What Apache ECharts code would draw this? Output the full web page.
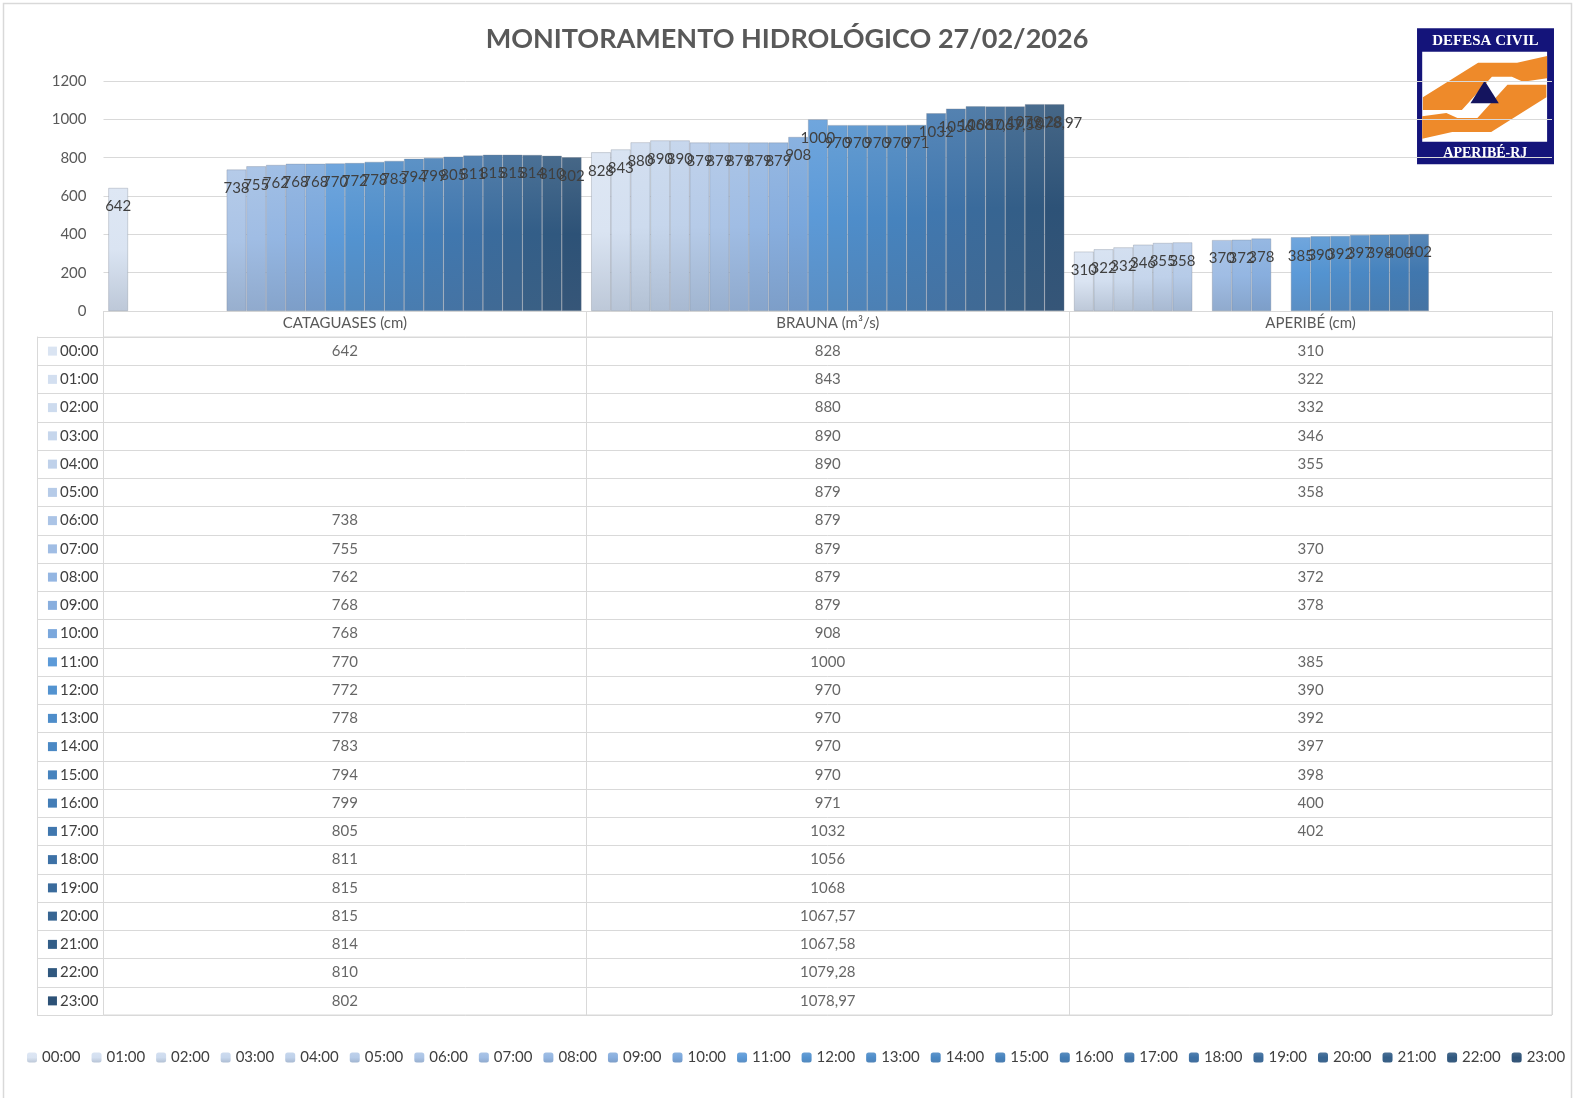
<!DOCTYPE html>
<html>
<head>
<meta charset="utf-8">
<script src="https://cdn.jsdelivr.net/npm/echarts@6/dist/echarts.min.js"></script>
<style>
html,body{margin:0;padding:0;background:#fff;}
#chart{width:1574px;height:1098px;}
</style>
</head>
<body>
<div id="chart"></div>
<script>
// ---- DATA ----
const hours = ['00:00','01:00','02:00','03:00','04:00','05:00','06:00','07:00','08:00','09:00','10:00','11:00',
               '12:00','13:00','14:00','15:00','16:00','17:00','18:00','19:00','20:00','21:00','22:00','23:00'];
const stations = ['CATAGUASES (cm)', 'BRAUNA (m³/s)', 'APERIBÉ (cm)'];
const cataguases = [642, null, null, null, null, null, 738, 755, 762, 768, 768, 770, 772, 778, 783, 794, 799, 805, 811, 815, 815, 814, 810, 802];
const brauna = [828, 843, 880, 890, 890, 879, 879, 879, 879, 879, 908, 1000, 970, 970, 970, 970, 971, 1032, 1056, 1068, 1067.57, 1067.58, 1079.28, 1078.97];
const aperibe = [310, 322, 332, 346, 355, 358, null, 370, 372, 378, null, 385, 390, 392, 397, 398, 400, 402, null, null, null, null, null, null];
const yTicks = [0, 200, 400, 600, 800, 1000, 1200];
const titleText = 'MONITORAMENTO HIDROLÓGICO 27/02/2026';

// ---- STYLE ----
const colors = ['#dae4f2','#d3dff0','#cddbee','#c6d6ec','#bfd1ea','#b6cbe8','#abc4e6','#a0bde4','#94b6e2','#88aede','#7aa7dc','#5c9ad8',
                '#5393d0','#4e8dca','#4a88c4','#4683be','#437db6','#4077ae','#3d71a6','#3a6b9c','#376592','#335e88','#30587f','#2d5277'];
const FONT = 'Lato, "Open Sans", sans-serif';
const GRID_LINE = '#d9d9d9';

function hex2rgb(h){h=h.replace('#','');return [0,2,4].map(i=>parseInt(h.substr(i,2),16));}
function mix(a,b,t){const A=hex2rgb(a),B=hex2rgb(b);return 'rgb('+A.map((v,i)=>Math.round(v+(B[i]-v)*t)).join(',')+')';}
function grad(c){
  return {type:'linear',x:0,y:0,x2:0,y2:1,colorStops:[
    {offset:0,color:mix(c,'#ffffff',0.12)},
    {offset:0.5,color:c},
    {offset:1,color:mix(c,'#55657a',0.22)}]};
}
function fmt(v){return v==null?'':String(v).replace('.',',');}

const series = hours.map((h,i)=>({
  name:h, type:'bar', xAxisIndex:0, yAxisIndex:0,
  barGap:'0%', barCategoryGap:'2%',
  data:[cataguases[i], brauna[i], aperibe[i]],
  itemStyle:{color:grad(colors[i]), borderColor:'rgba(120,130,145,0.55)', borderWidth:0.6},
  label:{show:true, position:'insideTop', distance:11, color:'#404040', fontSize:15, fontFamily:FONT,
         formatter:p=>fmt(p.value)},
  emphasis:{disabled:true}
}));

// table values as scatter labels
const tableData = [];
const cols = [cataguases, brauna, aperibe];
hours.forEach((h,i)=>{cols.forEach((arr,j)=>{ if(arr[i]!=null) tableData.push([j,i,arr[i]]); });});
series.push({
  name:'tabela', type:'scatter', xAxisIndex:1, yAxisIndex:1, symbolSize:1,
  itemStyle:{color:'rgba(0,0,0,0)'}, silent:true,
  data:tableData,
  label:{show:true, position:'inside', color:'#404040', fontSize:15, fontFamily:FONT,
         formatter:p=>fmt(p.value[2])},
  emphasis:{disabled:true}
});

const rich = {t:{fontSize:15, color:'#404040', fontFamily:FONT, padding:[0,0,0,3]}};
colors.forEach((c,i)=>{rich['b'+i]={width:9,height:9,backgroundColor:c};});

// logo geometry (decorative image)
const LX=1401.5, LY=20, SX=0.345, SY=1/3;
const P = pts => pts.map(p=>[LX+p[0]*SX, LY+p[1]*SY]);
const upper = [[62,232],[222,128],[335,128],[422,108],[422,175],[352,185],[320,170],[262,170],[175,270],[62,270]];
const lower = upper.map(p=>[482-p[0],464-p[1]]);

const option = {
  animation:false,
  backgroundColor:'#fff',
  title:{text:titleText, left:'center', top:21,
    textStyle:{fontSize:27, fontWeight:'bold', color:'#595959', fontFamily:FONT}},
  legend:{data:hours, bottom:28, left:22, itemWidth:10, itemHeight:10, itemGap:11,
    itemStyle:{borderWidth:0},
    textStyle:{fontSize:15, color:'#404040', fontFamily:FONT}},
  grid:[
    {left:103.5, right:22, top:81, bottom:787},
    {left:103.5, right:22, top:337, bottom:83, show:true, borderColor:GRID_LINE, borderWidth:1}
  ],
  xAxis:[
    {type:'category', gridIndex:0, data:stations,
     axisLine:{lineStyle:{color:GRID_LINE}},
     axisTick:{show:true, length:26, interval:0, lineStyle:{color:GRID_LINE}},
     axisLabel:{margin:5, fontSize:15, color:'#595959', fontFamily:FONT}},
    {type:'category', gridIndex:1, data:stations, position:'top',
     axisLine:{lineStyle:{color:GRID_LINE}}, axisTick:{show:false}, axisLabel:{show:false},
     splitLine:{show:true, interval:0, lineStyle:{color:GRID_LINE}}}
  ],
  yAxis:[
    {type:'value', gridIndex:0, min:yTicks[0], max:yTicks[yTicks.length-1], interval:200,
     axisLine:{show:false}, axisTick:{show:false},
     axisLabel:{margin:17, fontSize:15, color:'#595959', fontFamily:FONT, formatter:v=>String(v)},
     splitLine:{lineStyle:{color:GRID_LINE}}},
    {type:'category', gridIndex:1, data:hours, inverse:true,
     axisLine:{lineStyle:{color:GRID_LINE}},
     axisTick:{show:true, length:66.5, interval:0, lineStyle:{color:GRID_LINE}},
     axisLabel:{margin:5, interval:0, rich:rich, formatter:(v,i)=>'{b'+i+'|}{t|'+v+'}'},
     splitLine:{show:true, interval:0, lineStyle:{color:GRID_LINE}}},
    {type:'category', gridIndex:1, data:hours, inverse:true, position:'left', offset:66.5,
     axisLine:{show:true, lineStyle:{color:GRID_LINE}}, axisTick:{show:false}, axisLabel:{show:false},
     splitLine:{show:false}}
  ],
  graphic:[
    {type:'rect', shape:{x:3.5, y:3.5, width:1568, height:1120}, style:{fill:'none', stroke:'#d9d9d9', lineWidth:1.5}, silent:true},
    {type:'group', silent:true, children:[
      {type:'rect', shape:{x:LX+45*SX, y:LY+25*SY, width:(442-45)*SX, height:(433-25)*SY}, style:{fill:'#14147a'}},
      {type:'rect', shape:{x:LX+60*SX, y:LY+95*SY, width:(422-60)*SX, height:(365-95)*SY}, style:{fill:'#ffffff'}},
      {type:'polygon', shape:{points:P(upper)}, style:{fill:'#ee8a2a'}},
      {type:'polygon', shape:{points:P(lower)}, style:{fill:'#ee8a2a'}},
      {type:'polygon', shape:{points:P([[241,182],[282,250],[200,250]])}, style:{fill:'#14145e'}},
      {type:'text', style:{x:LX+243*SX, y:LY+62*SY, text:'DEFESA CIVIL', fill:'#fff', align:'center', verticalAlign:'middle',
        font:'bold 15px "Liberation Serif", "DejaVu Serif", serif'}},
      {type:'text', style:{x:LX+243*SX, y:LY+400*SY, text:'APERIBÉ-RJ', fill:'#fff', align:'center', verticalAlign:'middle',
        font:'bold 14px "Liberation Serif", "DejaVu Serif", serif'}}
    ]}
  ],
  series:series
};

const chart = echarts.init(document.getElementById('chart'), null, {renderer:'canvas'});
chart.setOption(option);
</script>
</body>
</html>
